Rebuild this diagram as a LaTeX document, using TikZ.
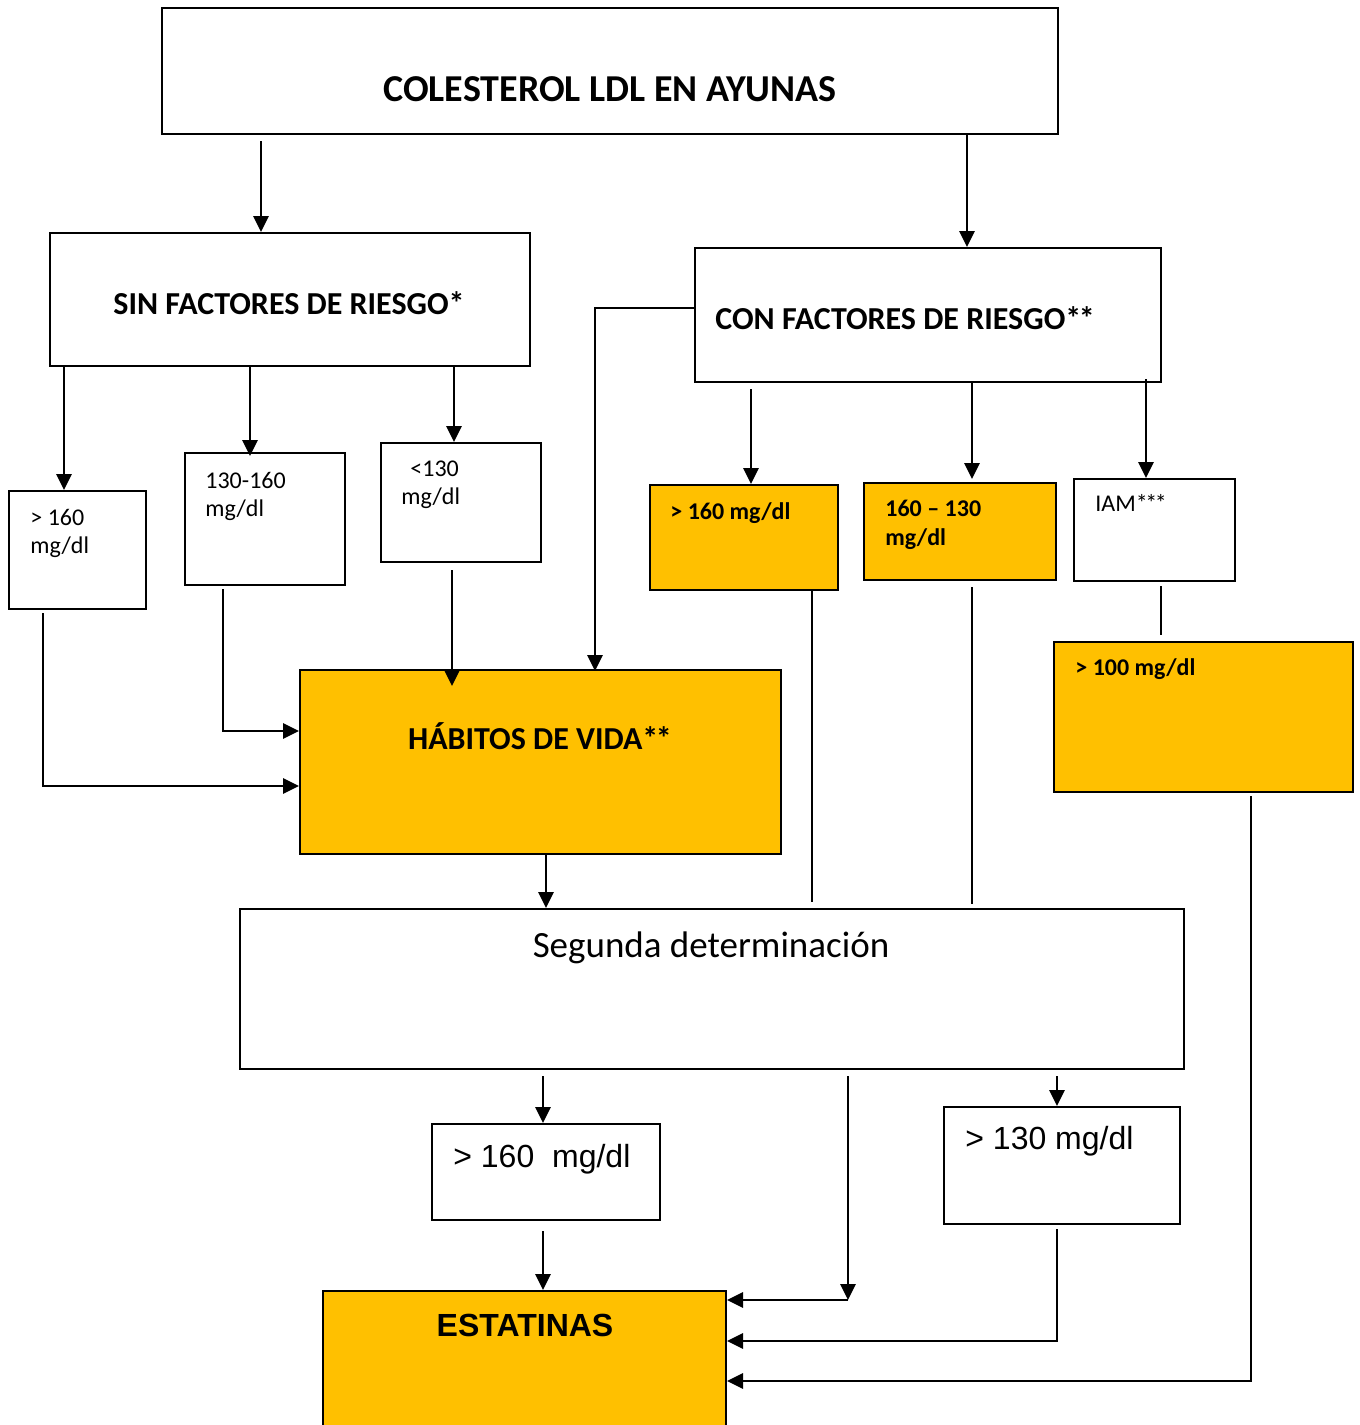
\documentclass[tikz,border=0pt]{standalone}
\usepackage{fontspec}
\setmainfont{Carlito}
\newfontfamily\arialfont{Liberation Sans}
\usepackage{xcolor}
\usetikzlibrary{arrows.meta,calc,fit}
\definecolor{naranja}{HTML}{FFC000}
\newcommand{\estrella}{*\kern-1.2pt}

\begin{document}
\begin{tikzpicture}[x=0.5pt,y=-0.5pt,>={Triangle[length=8pt,width=7.5pt]},
  box/.style={draw,line width=1pt,inner sep=0pt},
  hot/.style={box,fill=naranja},
  flecha/.style={->,line width=1.4pt},
  linea/.style={line width=0.9pt},
  titulo/.style={inner sep=0pt,anchor=base,font=\fontsize{19}{23}\selectfont\bfseries},
  etiq/.style={inner sep=0pt,font=\fontsize{16}{19}\selectfont\bfseries},
  chico/.style={inner sep=0pt,anchor=base west,align=left,font=\fontsize{12}{14}\selectfont},
  chicob/.style={chico,font=\fontsize{12}{14.5}\selectfont\bfseries},
  arial/.style={inner sep=0pt,anchor=base west,font=\arialfont\fontsize{16}{19}\selectfont}]
\useasboundingbox (0,0) rectangle (1360,1425);
\begin{scope}
\clip (0,0) rectangle (1360,1425);

% cajas
\node[box,fit={(162,8)(1058,134)}]     (ldl) {};
\node[box,fit={(50,233)(530,366)}]     (sinfr) {};
\node[box,fit={(695,248)(1161,382)}]   (confr) {};
\node[box,fit={(9,491)(146,609)}]      (s160) {};
\node[box,fit={(185,453)(345,585)}]    (s130) {};
\node[box,fit={(381,443)(541,562)}]    (smenor) {};
\node[hot,fit={(650,485)(838,590)}]    (c160) {};
\node[hot,fit={(864,483)(1056,580)}]   (c130) {};
\node[box,fit={(1074,479)(1235,581)}]  (iam) {};
\node[hot,fit={(1054,642)(1353,792)}]  (c100) {};
\node[hot,fit={(300,670)(781,854)}]    (habitos) {};
\node[box,fit={(240,909)(1184,1069)}]  (segunda) {};
\node[box,fit={(432,1124)(660,1220)}]  (d160) {};
\node[box,fit={(944,1107)(1180,1224)}] (d130) {};
\node[hot,fit={(323,1291)(726,1445)}]  (estatinas) {};

% textos (base = ultima linea)
\node[titulo] (tldl) at (610,101) {COLESTEROL LDL EN AYUNAS};
\node[etiq,anchor=base] (tsin) at (289,314) {SIN FACTORES DE RIESGO*};
\node[etiq,anchor=base west] (tcon) at (715,329) {CON FACTORES DE RIESGO\estrella*};
\node[chico] (ts160) at (30,553) {> 160\\mg/dl};
\node[chico] (ts130) at (205,516) {130-160\\mg/dl};
\node[chico] (tsmenor) at (401,504) {\hspace*{4.5pt}<130\\mg/dl};
\node[chicob] (tc160) at (670,519) {> 160 mg/dl};
\node[chicob] (tc130) at (885,545) {160 -- 130\\mg/dl};
\node[chico] (tiam) at (1095,511) {IAM\estrella\estrella*};
\node[chicob] (tc100) at (1075,675) {> 100 mg/dl};
\node[etiq,anchor=base] (thab) at (540,749) {HÁBITOS DE VIDA\estrella*};
\node[inner sep=0pt,anchor=base,font=\fontsize{18.5}{22}\selectfont] (tseg) at (711,957) {Segunda determinación};
\node[arial] (td160) at (453,1167) {> 160\ \ mg/dl};
\node[arial] (td130) at (965,1149) {> 130 mg/dl};
\node[arial,anchor=base,font=\arialfont\bfseries\fontsize{16}{19}\selectfont] (test) at (525,1336) {ESTATINAS};

% flechas
\draw[flecha] ($(ldl.south west)+(100,6)$) -- ($(sinfr.north west)+(212,0)$);
\draw[flecha] ($(ldl.south west)+(806,0)$) -- ($(confr.north west)+(273,0)$);
\draw[flecha] ($(sinfr.south west)+(15,0)$) -- ($(s160.north west)+(56,0)$);
\draw[flecha] ($(sinfr.south west)+(201,0)$) -- ($(s130.north west)+(66,4)$);
\draw[flecha] ($(sinfr.south west)+(405,0)$) -- ($(smenor.north west)+(74,0)$);
\draw[flecha] ($(confr.north west)+(0,61)$) -| ($(habitos.north west)+(296,2)$);
\draw[flecha] ($(confr.south west)+(57,6)$) -- ($(c160.north west)+(102,0)$);
\draw[flecha] ($(confr.south west)+(278,0)$) -- ($(c130.north west)+(109,-3)$);
\draw[flecha] ($(confr.south west)+(452,-4)$) -- ($(iam.north west)+(73,0)$);
\draw[flecha] ($(s160.south west)+(35,3)$) |- ($(habitos.north west)+(0,117)$);
\draw[flecha] ($(s130.south west)+(39,3)$) |- ($(habitos.north west)+(0,62)$);
\draw[flecha] ($(smenor.south west)+(72,7)$) -- ($(habitos.north west)+(153,17)$);
\draw[flecha] ($(habitos.south west)+(247,0)$) -- ($(segunda.north west)+(307,0)$);
\draw[linea] ($(c160.south west)+(163,0)$) -- ($(segunda.north west)+(573,-6)$);
\draw[linea] ($(c130.south west)+(109,6)$) -- ($(segunda.north west)+(733,-4)$);
\draw[linea] ($(iam.south west)+(88,4)$) -- ($(c100.north west)+(108,-6)$);
\draw[flecha] ($(c100.south west)+(198,3)$) |- ($(estatinas.north east)+(0,91)$);
\draw[flecha] ($(segunda.south west)+(304,6)$) -- ($(d160.north west)+(112,0)$);
\draw[flecha] ($(segunda.south west)+(609,6)$) -- ++(0,224) coordinate (codo);
\draw[flecha] (codo) -- (codo -| estatinas.east);
\draw[flecha] ($(segunda.south west)+(818,6)$) -- ($(d130.north west)+(114,0)$);
\draw[flecha] ($(d130.south west)+(114,4)$) |- ($(estatinas.north east)+(0,51)$);
\draw[flecha] ($(d160.south west)+(112,10)$) -- ($(estatinas.north west)+(221,0)$);
\end{scope}
\end{tikzpicture}
\end{document}
